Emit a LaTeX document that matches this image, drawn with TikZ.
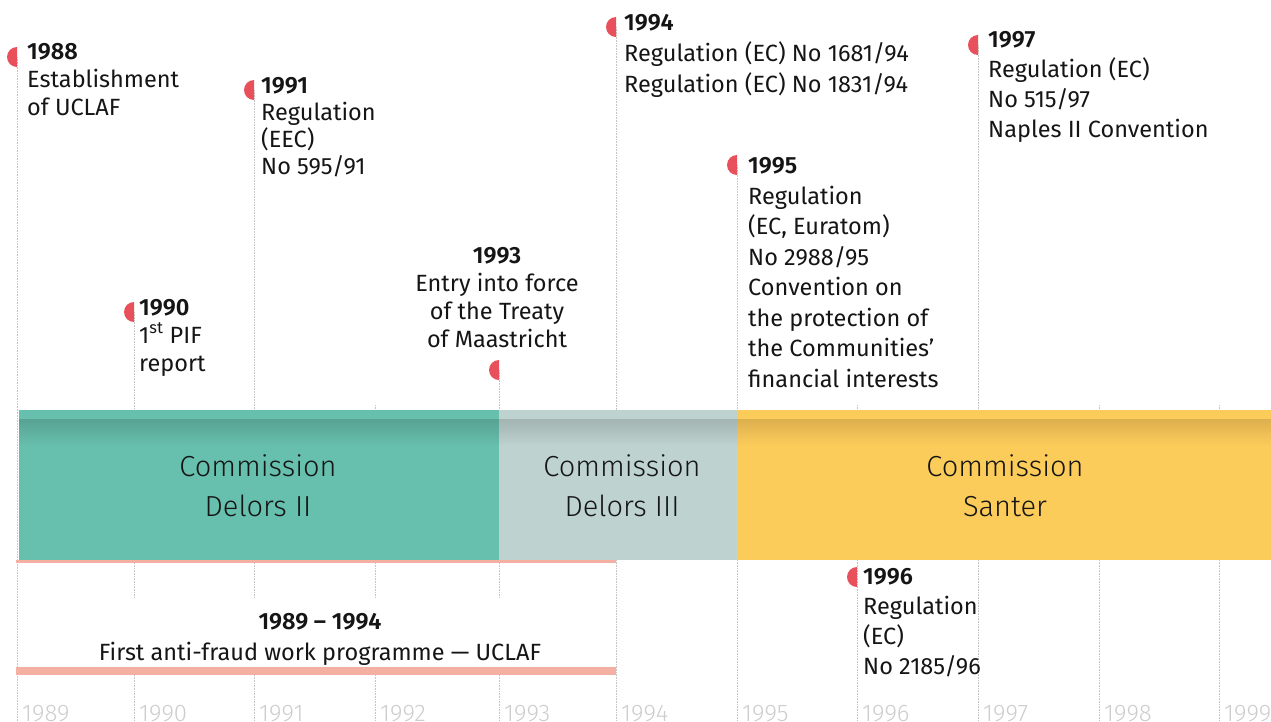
\documentclass[tikz,border=0pt]{standalone}
\usepackage{fontspec}
\IfFontExistsTF{Fira Sans SemiBold}{\setmainfont{Fira Sans}[BoldFont={Fira Sans SemiBold}]}{\setmainfont{Fira Sans}}
\IfFontExistsTF{Fira Sans Light}{\newfontfamily\lightfont{Fira Sans Light}}{\newfontfamily\lightfont{Fira Sans}}
\definecolor{dotred}{HTML}{E8505B}
\definecolor{tealc}{HTML}{67BFAD}
\definecolor{tealdk}{HTML}{58A393}
\definecolor{greyc}{HTML}{BED2CF}
\definecolor{greydk}{HTML}{A3B4B1}
\definecolor{yellc}{HTML}{FCCC5A}
\definecolor{yelldk}{HTML}{DDB04F}
\definecolor{salmon}{HTML}{F5B0A4}
\definecolor{gridc}{HTML}{C4C4C4}
\definecolor{yearc}{HTML}{CDCDCD}
\definecolor{textblack}{HTML}{151515}
\begin{document}
\begin{tikzpicture}[x=1pt,y=-1pt,
  gridl/.style={draw=gridc, line width=0.9pt, dash pattern=on 1pt off 0.6pt},
  evt/.style={anchor=base west, align=left, inner sep=0pt, text=textblack, font={\fontsize{23.5}{28}\selectfont}},
  evtn/.style={evt, font={\fontsize{23.5}{27}\selectfont}},
  evtw/.style={evt, font={\fontsize{23.5}{30.5}\selectfont}},
  bandtxt/.style={align=center, inner sep=0pt, text=textblack, font={\lightfont\fontsize{29}{40}\selectfont}},
  yearlab/.style={anchor=base west, inner sep=0pt, text=yearc, font={\lightfont\fontsize{24}{24}\selectfont}},
  progtxt/.style={anchor=base, align=center, inner sep=0pt, text=textblack, font={\fontsize{23.5}{31}\selectfont}},
  dotfill/.style={fill=dotred}]
\useasboundingbox (0,0) rectangle (1271,721);

% grid lines below the band
\foreach \gx in {134,254,375,499}{
  \draw[gridl] (\gx,560) -- (\gx,597);
  \draw[gridl] (\gx,675) -- (\gx,721);
}
\foreach \gx in {616,737,857,978,1099,1219}{
  \draw[gridl] (\gx,560) -- (\gx,721);
}
\foreach \gx in {375,857,1099,1219}{
  \draw[gridl] (\gx,405) -- (\gx,410);
}

% event stems
\foreach \n/\px/\py in {88/17/57, 90/134/312, 91/254/90, 93/499/370, 94/616/27, 95/737/165, 97/978/45}{
  \coordinate (d\n) at (\px,\py);
  \coordinate (b\n) at (\px,410);
  \draw[gridl] (d\n) -- (b\n);
}
\coordinate (d96) at (857,577);
\coordinate (bot88) at (17,721);
\draw[gridl] (b88) -- (bot88);

% commission band
\fill[tealc] (19,410) rectangle (499,560);
\fill[greyc] (499,410) rectangle (737,560);
\fill[yellc] (737,410) rectangle (1271,560);
\shade[top color=tealdk, bottom color=tealc] (19,419) rectangle (499,446);
\shade[top color=greydk, bottom color=greyc] (499,419) rectangle (737,446);
\shade[top color=yelldk, bottom color=yellc] (737,419) rectangle (1271,446);

\node[bandtxt] (cd2) at (258,486) {Commission\\Delors II};
\node[bandtxt] (cd3) at (622,486) {Commission\\Delors III};
\node[bandtxt] (cs) at (1005,486) {Commission\\Santer};

% programme bar
\draw[salmon, line width=3pt] (16,561.5) -- (616,561.5);
\draw[salmon, line width=8pt] (16,671) -- (616,671);
\node[progtxt] (prog) at (320,660) {\textbf{1989 – 1994}\\First anti-fraud work programme — UCLAF};

% red half dots
\foreach \px/\py in {17/57, 134/312, 254/90, 499/370, 616/27, 737/165, 978/45, 857/577}{
  \fill[dotfill] (\px,\py-10) arc[start angle=90,end angle=270,radius=10pt] -- cycle;
}

% events (anchored at the baseline of their last line)
\node[evt] (e88) at (27,115) {\textbf{1988}\\Establishment\\of UCLAF};
\node[evtn] (e91) at (261,174) {\textbf{1991}\\Regulation\\(EEC)\\No 595/91};
\node[evt] (e90) at (139,371) {\textbf{1990}\\1\textsuperscript{st} PIF\\report};
\node[evt, anchor=base, align=center] (e93) at (497,347) {\textbf{1993}\\Entry into force\\of the Treaty\\of Maastricht};
\node[evtw, font={\fontsize{23.5}{31}\selectfont}] (e94) at (624,92) {\textbf{1994}\\Regulation (EC) No 1681/94\\Regulation (EC) No 1831/94};
\node[evtw] (e95) at (748,387) {\textbf{1995}\\Regulation\\(EC, Euratom)\\No 2988/95\\Convention on\\the protection of\\the Communities’\\financial interests};
\node[evtw, font={\fontsize{23.5}{30}\selectfont}] (e97) at (988,137) {\textbf{1997}\\Regulation (EC)\\No 515/97\\Naples II Convention};
\node[evtw, font={\fontsize{23.5}{30}\selectfont}] (e96) at (863,674) {\textbf{1996}\\Regulation\\(EC)\\No 2185/96};

% year axis labels
\foreach \gx/\yr in {17/1989,134/1990,254/1991,375/1992,499/1993,616/1994,737/1995,857/1996,978/1997,1099/1998,1219/1999}{
  \node[yearlab] (y\yr) at (\gx+5,721) {\yr};
}
\end{tikzpicture}
\end{document}
